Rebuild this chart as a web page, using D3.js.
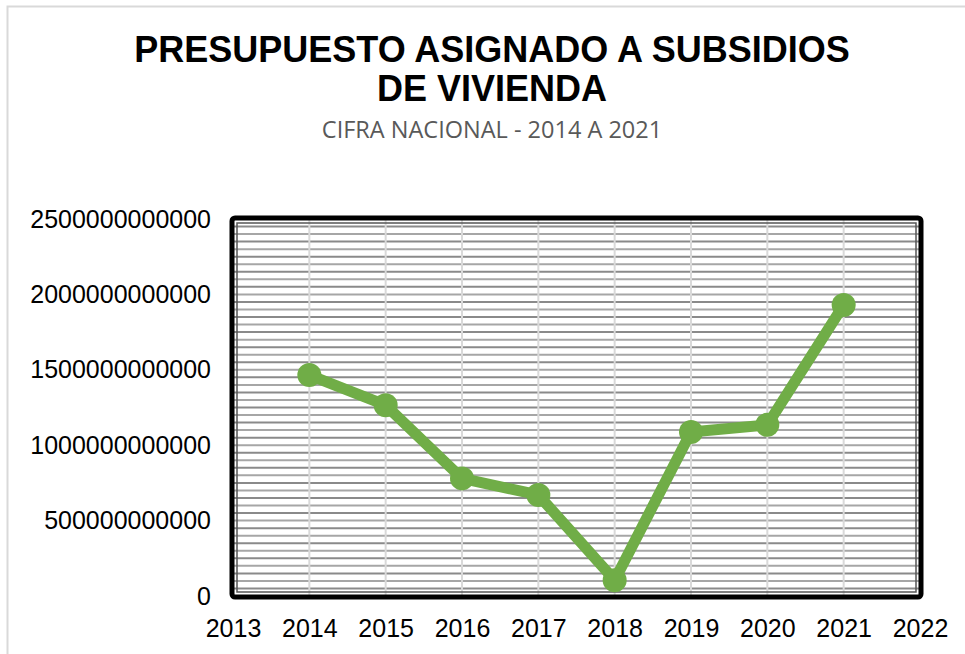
<!DOCTYPE html>
<html>
<head>
<meta charset="utf-8">
<script src="https://cdn.jsdelivr.net/npm/d3@7"></script>
<style>
  body { margin: 0; background: #fff; }
  svg { display: block; font-family: "Liberation Sans", Arial, sans-serif; }
</style>
</head>
<body>
<div id="graphicContainer"></div>
<script>

const years = [2014, 2015, 2016, 2017, 2018, 2019, 2020, 2021]
const budget = [1465000000000, 1265000000000, 780000000000, 670000000000, 105000000000, 1088000000000, 1135000000000, 1930000000000]
const xTicks = [2013, 2014, 2015, 2016, 2017, 2018, 2019, 2020, 2021, 2022]
const yTicks = [0, 500000000000, 1000000000000, 1500000000000, 2000000000000, 2500000000000]

const data = years.map((y, i) => ({ year: y, value: budget[i] }))

const width = 965
const height = 654
const marginleft = 233
const marginright = 45
const margintop = 219
const marginbottom = 58

const svg = d3.select("#graphicContainer").append("svg")
  .attr("width", width)
  .attr("height", height)

// outer chart frame
svg.append("rect")
  .attr("x", 7.5)
  .attr("y", 6.5)
  .attr("width", 1000)
  .attr("height", 700)
  .attr("fill", "none")
  .attr("stroke", "#d9d9d9")
  .attr("stroke-width", 2)

svg.append("text")
  .attr("x", 492)
  .attr("y", 62)
  .attr("text-anchor", "middle")
  .attr("font-size", 36)
  .attr("font-weight", "bold")
  .attr("fill", "#000")
  .text("PRESUPUESTO ASIGNADO A SUBSIDIOS")

svg.append("text")
  .attr("x", 492)
  .attr("y", 101)
  .attr("text-anchor", "middle")
  .attr("font-size", 36)
  .attr("font-weight", "bold")
  .attr("fill", "#000")
  .text("DE VIVIENDA")

svg.append("text")
  .attr("x", 492)
  .attr("y", 138)
  .attr("text-anchor", "middle")
  .attr("font-size", 23.5)
  .attr("fill", "#595959")
  .style("font-family", "'Open Sans', sans-serif")
  .text("CIFRA NACIONAL - 2014 A 2021")

const w = width - marginleft - marginright
const h = height - margintop - marginbottom

const g = svg.append("g")
  .attr("transform", `translate(${marginleft}, ${margintop})`)

const x = d3.scaleLinear()
  .domain([2013, 2022])
  .range([0, w])

const y = d3.scaleLinear()
  .domain([0, 2500000000000])
  .range([h, 0])

// minor horizontal grid every 50 bn
const minor = d3.range(0, 2500000000001, 50000000000)

g.append("g")
  .selectAll("line")
  .data(minor)
  .enter()
  .append("line")
  .attr("x1", 0)
  .attr("x2", w)
  .attr("y1", (d) => y(d))
  .attr("y2", (d) => y(d))
  .attr("stroke", (d, i) => i % 2 ? "#8a8a8a" : "#a6a6a6")
  .attr("stroke-width", 2)

g.append("g")
  .selectAll("line")
  .data(xTicks.slice(1, -1))
  .enter()
  .append("line")
  .attr("x1", (d) => x(d))
  .attr("x2", (d) => x(d))
  .attr("y1", 0)
  .attr("y2", h)
  .attr("stroke", "#d9d9d9")
  .attr("stroke-width", 2)

// double border of the plot area
g.append("rect")
  .attr("x", -1)
  .attr("y", -1)
  .attr("width", w + 2)
  .attr("height", h + 2)
  .attr("fill", "none")
  .attr("stroke", "#000")
  .attr("stroke-width", 5)
  .attr("rx", 3)

g.append("rect")
  .attr("x", 4)
  .attr("y", 4)
  .attr("width", w - 8)
  .attr("height", h - 8)
  .attr("fill", "none")
  .attr("stroke", "#555")
  .attr("stroke-width", 1.5)

// axes
const yAxis = g.append("g")
  .call(d3.axisLeft(y).tickValues(yTicks).tickSize(0).tickPadding(22).tickFormat(d3.format("d")))

yAxis.select(".domain").remove()
yAxis.selectAll("text")
  .attr("font-size", 25)
  .attr("font-family", "'Liberation Sans', Arial, sans-serif")
  .attr("fill", "#000")

const xAxis = g.append("g")
  .attr("transform", `translate(0, ${h})`)
  .call(d3.axisBottom(x).tickValues(xTicks).tickSize(0).tickPadding(23).tickFormat(d3.format("d")))

xAxis.select(".domain").remove()
xAxis.selectAll("text")
  .attr("font-size", 25)
  .attr("font-family", "'Liberation Sans', Arial, sans-serif")
  .attr("fill", "#000")

// series
const line = d3.line()
  .x((d) => x(d.year))
  .y((d) => y(d.value))

g.append("path")
  .datum(data)
  .attr("d", line)
  .attr("fill", "none")
  .attr("stroke", "#70ad47")
  .attr("stroke-width", 11)
  .attr("stroke-linejoin", "round")

g.append("g")
  .selectAll("circle")
  .data(data)
  .enter()
  .append("circle")
  .attr("cx", (d) => x(d.year))
  .attr("cy", (d) => y(d.value))
  .attr("r", 12)
  .attr("fill", "#70ad47")

</script>
</body>
</html>
